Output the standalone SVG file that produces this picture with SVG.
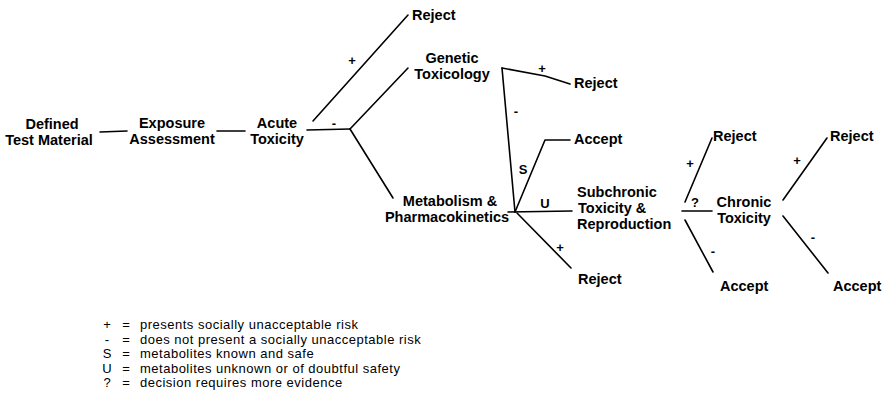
<svg xmlns="http://www.w3.org/2000/svg" width="888" height="402" viewBox="0 0 888 402">
<style>
.n{font-family:"Liberation Sans",Arial,sans-serif;font-weight:bold;font-size:14.5px;fill:#000}
.c{text-anchor:middle}
.e{font-family:"Liberation Sans",Arial,sans-serif;font-weight:bold;font-size:13px;fill:#000;text-anchor:middle}
.lg{font-family:"Liberation Sans",Arial,sans-serif;font-size:13px;letter-spacing:0.5px;fill:#000}
.sy{font-family:"Liberation Sans",Arial,sans-serif;font-size:13px;fill:#000;text-anchor:middle}
.ln{fill:none;stroke:#000;stroke-width:1.6;stroke-linejoin:round;stroke-linecap:round}
</style>
<rect width="888" height="402" fill="#fff"/>
<g id="connectors">
<path class="ln" d="M100,132 L127,131"/>
<path class="ln" d="M217,131 L245,131"/>
<path class="ln" d="M307,130 L350,129"/>
<path class="ln" d="M313,121 L408,15"/>
<path class="ln" d="M350,129 L408,68"/>
<path class="ln" d="M350,129 L393,198"/>
<path class="ln" d="M502,68 L545,76 L570,84"/>
<path class="ln" d="M502,68 L515,212"/>
<path class="ln" d="M515,212 L545,140 L570,140"/>
<path class="ln" d="M508,212 L572,211"/>
<path class="ln" d="M517,213 L571,268"/>
<path class="ln" d="M682,211 L712,211"/>
<path class="ln" d="M685,202 L712,138"/>
<path class="ln" d="M685,220 L713,272"/>
<path class="ln" d="M783,200 L827,138"/>
<path class="ln" d="M783,216 L828,273"/>
<text class="e" x="352" y="65">+</text>
<text class="e" x="334" y="128">-</text>
<text class="e" x="542" y="73">+</text>
<text class="e" x="516" y="116">-</text>
<text class="e" x="523" y="174">S</text>
<text class="e" x="545" y="208">U</text>
<text class="e" x="560" y="252">+</text>
<text class="e" x="690" y="168">+</text>
<text class="e" x="695" y="207">?</text>
<text class="e" x="713" y="256">-</text>
<text class="e" x="797" y="165">+</text>
<text class="e" x="813" y="242">-</text>
</g>
<g id="defined"><text class="n c" x="52" y="129">Defined</text><text class="n c" x="49" y="145">Test Material</text></g>
<g id="exposure"><text class="n c" x="172" y="128">Exposure</text><text class="n c" x="172" y="144">Assessment</text></g>
<g id="acute"><text class="n c" x="277" y="128">Acute</text><text class="n c" x="277" y="144">Toxicity</text></g>
<g id="reject1"><text class="n" x="412" y="20">Reject</text></g>
<g id="genetic"><text class="n c" x="452" y="63">Genetic</text><text class="n c" x="452" y="79">Toxicology</text></g>
<g id="reject2"><text class="n" x="574" y="88">Reject</text></g>
<g id="accept1"><text class="n" x="574" y="144">Accept</text></g>
<g id="metabolism"><text class="n c" x="450" y="206">Metabolism &amp;</text><text class="n c" x="447" y="222">Pharmacokinetics</text></g>
<g id="subchronic"><text class="n" x="577" y="197">Subchronic</text><text class="n" x="578" y="213">Toxicity &amp;</text><text class="n" x="577" y="229">Reproduction</text></g>
<g id="reject3"><text class="n" x="578" y="284">Reject</text></g>
<g id="reject4"><text class="n" x="713" y="141">Reject</text></g>
<g id="accept2"><text class="n" x="720" y="291">Accept</text></g>
<g id="chronic"><text class="n c" x="744" y="207">Chronic</text><text class="n c" x="744" y="223">Toxicity</text></g>
<g id="reject5"><text class="n" x="830" y="141">Reject</text></g>
<g id="accept3"><text class="n" x="833" y="291">Accept</text></g>
<g id="legend">
<text class="sy" x="107" y="329">+</text><text class="sy" x="126" y="329">=</text><text class="lg" x="140" y="329">presents socially unacceptable risk</text>
<text class="sy" x="107" y="344">-</text><text class="sy" x="126" y="344">=</text><text class="lg" x="140" y="344">does not present a socially unacceptable risk</text>
<text class="sy" x="107" y="358">S</text><text class="sy" x="126" y="358">=</text><text class="lg" x="140" y="358">metabolites known and safe</text>
<text class="sy" x="107" y="373">U</text><text class="sy" x="126" y="373">=</text><text class="lg" x="140" y="373">metabolites unknown or of doubtful safety</text>
<text class="sy" x="107" y="387">?</text><text class="sy" x="126" y="387">=</text><text class="lg" x="140" y="387">decision requires more evidence</text>
</g>
</svg>
